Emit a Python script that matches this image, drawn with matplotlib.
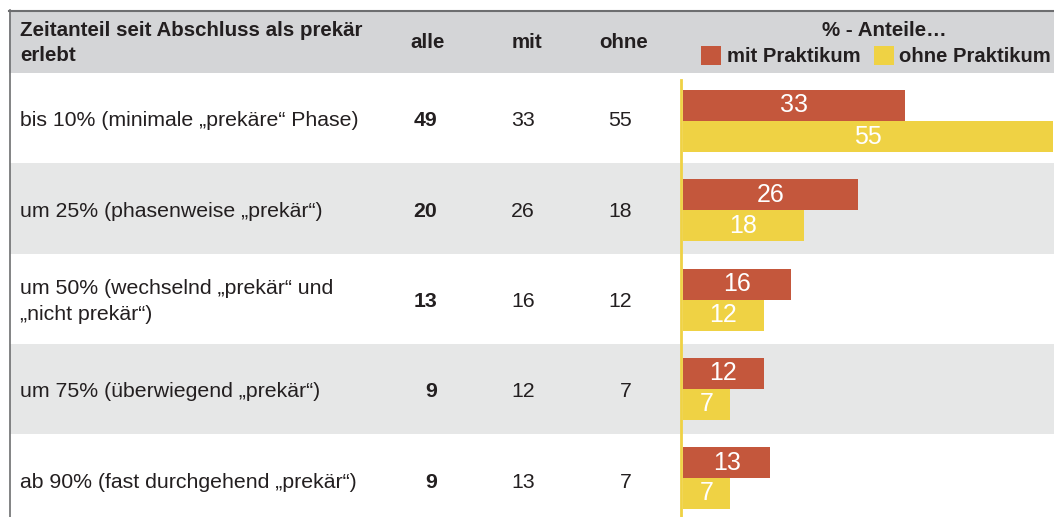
import matplotlib.pyplot as plt
from matplotlib.patches import Rectangle

plt.rcParams['font.family'] = ['Liberation Sans', 'DejaVu Sans']

# table data
header = 'Zeitanteil seit Abschluss als prekär\nerlebt'
columns = ['alle', 'mit', 'ohne']
categories = ['bis 10% (minimale „prekäre“ Phase)',
              'um 25% (phasenweise „prekär“)',
              'um 50% (wechselnd „prekär“ und\n„nicht prekär“)',
              'um 75% (überwiegend „prekär“)',
              'ab 90% (fast durchgehend „prekär“)']
alle = [49, 20, 13, 9, 9]
mit = [33, 26, 16, 12, 13]
ohne = [55, 18, 12, 7, 7]
series_names = ['mit Praktikum', 'ohne Praktikum']

W, H = 1054, 517
red = '#c4573c'
yellow = '#efd244'
txt = '#231f20'
fs = 15.3

fig = plt.figure(figsize=(W / 100, H / 100), dpi=100)

# background / table layer in pixel coords
bg = fig.add_axes([0, 0, 1, 1])
bg.set_xlim(0, W)
bg.set_ylim(H, 0)
bg.axis('off')

bg.add_patch(Rectangle((9, 10), W, 63, color='#d4d5d7', lw=0))
bg.plot([9, W], [10.5, 10.5], color='#6d6e70', lw=1.5)
bg.plot([9.5, 9.5], [10, H], color='#6d6e70', lw=1.2)

row_h = 90.25
for i, cat in enumerate(categories):
    top = 73 + row_h * i
    if i % 2 == 1:
        bg.add_patch(Rectangle((10, top), W, row_h, color='#e6e7e7', lw=0))
    yc = top + 48
    bg.text(20, yc, cat, ha='left', va='center', fontsize=fs, color=txt, linespacing=1.42)
    bg.text(437, yc, str(alle[i]), ha='right', va='center', fontsize=fs,
            color=txt, fontweight='bold')
    bg.text(535, yc, str(mit[i]), ha='right', va='center', fontsize=fs, color=txt)
    bg.text(632, yc, str(ohne[i]), ha='right', va='center', fontsize=fs, color=txt)

bg.text(20, 43, header, ha='left', va='center', fontsize=14.8, fontweight='bold',
        color=txt, linespacing=1.45)
for x, col in zip([428, 527, 624], columns):
    bg.text(x, 43, col, ha='center', va='center', fontsize=14.8, fontweight='bold', color=txt)

bg.text(884, 30, '% - Anteile…', ha='center', va='center', fontsize=14.8,
        fontweight='bold', color=txt)
bg.add_patch(Rectangle((701, 46), 20, 19, color=red, lw=0))
bg.text(727, 56, series_names[0], ha='left', va='center', fontsize=14.6,
        fontweight='bold', color=txt)
bg.add_patch(Rectangle((874, 46), 20, 19, color=yellow, lw=0))
bg.text(899, 56, series_names[1], ha='left', va='center', fontsize=14.6,
        fontweight='bold', color=txt)

# bar layer
px_per_unit = 6.727
step = 89.25
ax = fig.add_axes([679 / W, 0, (W - 679) / W, (H - 73) / H])
ax.set_facecolor('none')
ax.set_xlim(-4 / px_per_unit, (W - 683) / px_per_unit)
ax.set_ylim((H - 121) / step, (73 - 121) / step)
ax.axis('off')

pos = list(range(len(categories)))
bh = 31 / step
off = 15.5 / step
b1 = ax.barh([p - off for p in pos], mit, height=bh, color=red)
b2 = ax.barh([p + off for p in pos], ohne, height=bh, color=yellow)
ax.bar_label(b1, labels=[str(v) for v in mit], label_type='center',
             color='white', fontsize=18)
ax.bar_label(b2, labels=[str(v) for v in ohne], label_type='center',
             color='white', fontsize=18)
ax.axvline(-2 / px_per_unit, ymin=0, ymax=1 - 7 / (H - 73), color=yellow, lw=2)

fig.savefig('out.png', dpi=100)
